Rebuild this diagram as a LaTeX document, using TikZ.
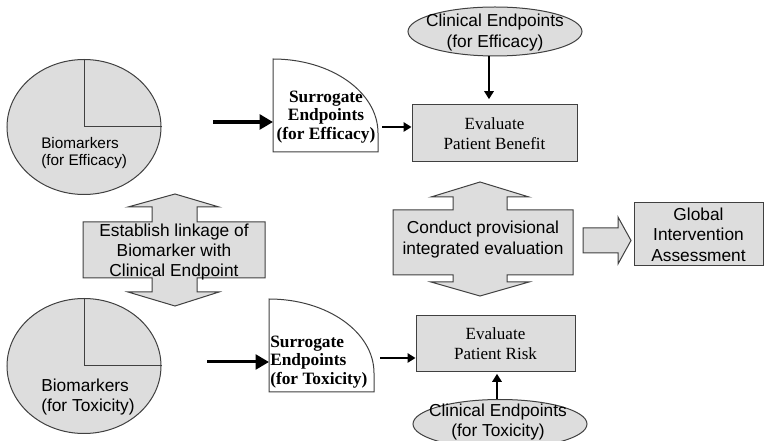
\documentclass[tikz,border=0pt]{standalone}
\usepackage{fontspec}
\setmainfont{Liberation Serif}
\setsansfont{Liberation Sans}
\usetikzlibrary{shapes.geometric,arrows.meta}
\definecolor{panelgray}{RGB}{221,221,221}
\tikzset{
  outline/.style={draw=black!75,line width=0.75pt},
  grayfill/.style={outline,fill=panelgray},
  marker/.style={grayfill,ellipse,minimum width=115.5pt,minimum height=101.25pt,inner sep=0pt},
  clinical/.style={grayfill,ellipse,minimum width=130.5pt,minimum height=36.75pt,inner sep=0pt},
  evalbox/.style={grayfill,rectangle,inner sep=0pt,align=center,font=\fontsize{12.8}{15}\selectfont},
  sanstext/.style={inner sep=0pt,align=center,font=\sffamily\fontsize{13}{15.5}\selectfont},
  surtext/.style={inner sep=0pt,font=\bfseries\fontsize{13}{13.9}\selectfont},
  surframe/.style={inner sep=0pt,outer sep=0pt},
  link/.style={line width=1.5pt,-{Triangle[length=6pt,width=7pt]}},
  fatlink/.style={line width=3pt,-{Triangle[length=10pt,width=11pt]}}
}
\begin{document}
\begin{tikzpicture}[x=0.75pt,y=-0.75pt]
  \useasboundingbox (0,0) rectangle (764,441);
  % biomarkers
  \node[marker] (bioE) at (84,127) {};
  \draw[outline] (bioE.north) -- (bioE.center) -- (bioE.east);
  \node[anchor=west,inner sep=0pt,align=left,font=\sffamily\fontsize{11.5}{12.75}\selectfont] (bioEtxt) at (41,153) {Biomarkers\\(for Efficacy)};
  \node[marker] (bioT) at (84,366) {};
  \draw[outline] (bioT.north) -- (bioT.center) -- (bioT.east);
  \node[anchor=west,inner sep=0pt,align=left,font=\sffamily\fontsize{13}{15.5}\selectfont] (bioTtxt) at (41,397) {Biomarkers\\(for Toxicity)};
  % surrogate endpoints
  \node[surframe,minimum width=78.75pt,minimum height=69.75pt] (surE) at (325.5,105.5) {};
  \draw[outline,fill=white] (surE.south west) -- (surE.north west) .. controls (331,59) and (378,92) .. (378,133) -- (surE.south east) -- cycle;
  \node[surtext,align=center] (surEtxt) at (326,117) {Surrogate\\Endpoints\\(for Efficacy)};
  \node[surframe,minimum width=78.75pt,minimum height=69.75pt] (surT) at (321.5,345.5) {};
  \draw[outline,fill=white] (surT.south west) -- (surT.north west) .. controls (327,299) and (374,332) .. (374,373) -- (surT.south east) -- cycle;
  \node[surtext,align=left,anchor=west] (surTtxt) at (270,362) {Surrogate\\Endpoints\\(for Toxicity)};
  \coordinate (bioEtail) at (213,122);
  \draw[fatlink] (bioEtail) -- (bioEtail -| surE.west);
  \coordinate (bioTtail) at (207,362);
  \draw[fatlink,line width=2.25pt] (bioTtail) -- (bioTtail -| surT.west);
  % evaluation
  \node[clinical] (ctE) at (495,31.5) {};
  \node[sanstext] (ctEtxt) at (495,32.5) {Clinical Endpoints\\(for Efficacy)};
  \node[evalbox,minimum width=123.75pt,minimum height=42.75pt] (benefit) at (494.5,133.5) {Evaluate\\Patient Benefit};
  \node[evalbox,minimum width=119.25pt,minimum height=42pt] (risk) at (495.5,344) {Evaluate\\Patient Risk};
  \node[clinical] (ctT) at (500,424) {};
  \node[sanstext] (ctTtxt) at (498,422) {Clinical Endpoints\\(for Toxicity)};
  \coordinate (surEhead) at (382,127);
  \draw[link] (surEhead) -- (surEhead -| benefit.west);
  \coordinate (surThead) at (380,358);
  \draw[link] (surThead) -- (surThead -| risk.west);
  \draw[link,shorten >=4pt] ([xshift=-4.5pt]ctE.south) -- ([xshift=-4.5pt]ctE.south |- benefit.north);
  \draw[link,shorten >=1pt] ([xshift=-2.25pt]ctT.north) -- ([xshift=-2.25pt]ctT.north |- risk.south);
  % hollow arrows
  \draw[grayfill] (175,194) -- (219,207) -- (197,207) -- (197,222) -- (265,222) -- (265,278) -- (197,278) -- (197,292) -- (219,292) -- (175,306) -- (128,292) -- (152,292) -- (152,278) -- (83,278) -- (83,222) -- (152,222) -- (152,207) -- (128,207) -- cycle;
  \node[sanstext,font=\sffamily\fontsize{13}{15}\selectfont] (establish) at (174,252) {Establish linkage of\\Biomarker with\\Clinical Endpoint};
  \draw[grayfill] (480,182) -- (529,197) -- (507,197) -- (507,210) -- (573,210) -- (573,275) -- (507,275) -- (507,282) -- (529,282) -- (480,296) -- (431,282) -- (453,282) -- (453,275) -- (393,275) -- (393,210) -- (453,210) -- (453,197) -- (431,197) -- cycle;
  \node[sanstext,font=\sffamily\fontsize{13}{15.75}\selectfont] (conduct) at (483,240) {Conduct provisional\\integrated evaluation};
  \draw[grayfill] (583,228) -- (618,228) -- (618,217) -- (631,240.5) -- (618,264) -- (618,253) -- (583,253) -- cycle;
  \node[grayfill,sanstext,minimum width=96.75pt,minimum height=47.25pt] (global) at (698.5,234.5) {Global\\Intervention\\Assessment};
\end{tikzpicture}
\end{document}
